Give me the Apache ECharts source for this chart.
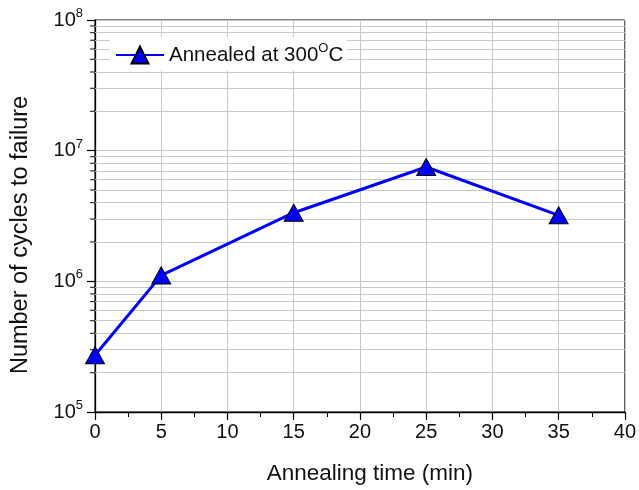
<!DOCTYPE html>
<html><head><meta charset="utf-8">
<script src="https://cdn.jsdelivr.net/npm/echarts@6/dist/echarts.min.js"></script>
<style>html,body{margin:0;padding:0;background:#fff}#c{width:639px;height:490px}</style>
</head><body><div id="c"></div>
<script>
const annealTime = [0, 5, 15, 25, 35];
const cycles = [2.72e5, 1.11e6, 3.35e6, 7.5e6, 3.2e6];
const seriesName = 'Annealed at 300{sup|O}C';
const xLabel = 'Annealing time (min)';
const yLabel = 'Number of cycles to failure';
const decades = [1e5, 1e6, 1e7];
const minorMultipliers = [2, 3, 4, 5, 6, 7, 8, 9];

const minorVals = [];
decades.forEach(d => minorMultipliers.forEach(m => minorVals.push(m * d)));

const font = 'Liberation Sans, Arial, sans-serif';
const chart = echarts.init(document.getElementById('c'), null, {renderer: 'canvas'});
chart.setOption({
  animation: false,
  backgroundColor: '#fff',
  grid: {left: 95, right: 13, top: 20, bottom: 77, show: true, borderColor: '#000', borderWidth: 1, backgroundColor: 'transparent'},
  legend: {
    left: 110, top: 37, z: 20, data: [{name: seriesName}],
    backgroundColor: '#fff', padding: [5, 4, 5, 5],
    itemWidth: 48, itemHeight: 21, itemGap: 4,
    textStyle: {fontFamily: font, fontSize: 20.5, color: '#111',
      rich: {sup: {fontFamily: font, fontSize: 13, padding: [0, 0, 13, 0], color: '#111'}}}
  },
  xAxis: {
    type: 'value', min: 0, max: 40, interval: 5,
    axisLine: {onZero: false, lineStyle: {color: '#000', width: 1.3}},
    axisTick: {inside: false, length: 8, lineStyle: {color: '#000', width: 1.2}},
    minorTick: {show: true, splitNumber: 2, length: 5, lineStyle: {color: '#000'}},
    splitLine: {show: true, lineStyle: {color: '#c8c8c8', width: 1}},
    axisLabel: {fontFamily: font, fontSize: 20, color: '#111', margin: 10},
    name: xLabel, nameLocation: 'middle', nameGap: 50,
    nameTextStyle: {fontFamily: font, fontSize: 22.5, color: '#111', padding: [0, 0, 0, 20]}
  },
  yAxis: {
    type: 'log', logBase: 10, min: 1e5, max: 1e8, splitNumber: 3,
    axisLine: {onZero: false, lineStyle: {color: '#000', width: 1.3}},
    axisTick: {inside: false, length: 8, lineStyle: {color: '#000', width: 1.2}},
    splitLine: {show: true, lineStyle: {color: '#c8c8c8', width: 1}},
    axisLabel: {fontFamily: font, fontSize: 20, color: '#111', margin: 12,
      formatter: v => '10{sup|' + Math.round(Math.log10(v)) + '}',
      rich: {sup: {fontFamily: font, fontSize: 13, padding: [0, 0, 13, 0], color: '#111'}}},
    name: yLabel, nameLocation: 'middle', nameGap: 62,
    nameTextStyle: {fontFamily: font, fontSize: 23.5, color: '#111', padding: [0, 38, 0, 0]}
  },
  series: [
    {
      name: 'grid-minor', type: 'line', data: [], silent: true, z: 1,
      markLine: {silent: true, symbol: ['none', 'none'], label: {show: false},
        lineStyle: {color: '#c8c8c8', width: 1, type: 'solid'},
        data: minorVals.map(v => ({yAxis: v}))}
    },
    {
      name: 'minor-ticks', type: 'scatter', silent: true, clip: false, z: 5,
      symbol: 'rect', symbolSize: [5, 1.2], symbolOffset: [-2.5, 0],
      itemStyle: {color: '#000'},
      data: minorVals.map(v => [0, v])
    },
    {
      name: seriesName, type: 'line', z: 10,
      data: annealTime.map((t, i) => [t, cycles[i]]),
      symbol: 'triangle', symbolSize: [19, 17], clip: false,
      lineStyle: {color: '#0000ff', width: 3},
      itemStyle: {color: '#0000ff', borderColor: '#000', borderWidth: 1}
    }
  ]
});
</script></body></html>
